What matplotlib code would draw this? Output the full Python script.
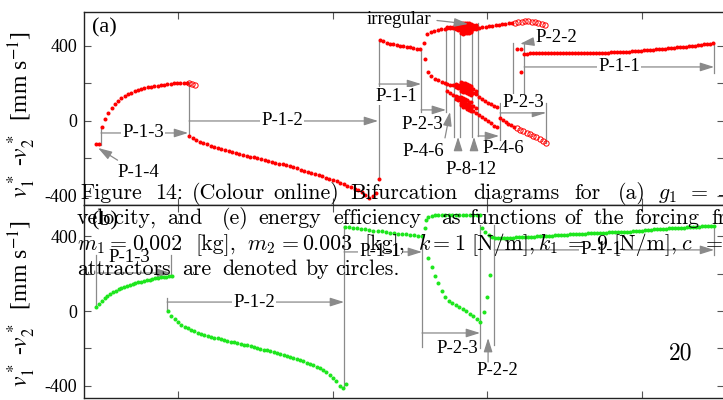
import matplotlib
matplotlib.use('Agg')
import matplotlib.pyplot as plt
import numpy as np

plt.rcParams['font.family'] = ['Liberation Serif', 'DejaVu Serif']
plt.rcParams['mathtext.fontset'] = 'stix'
plt.rcParams['axes.unicode_minus'] = False

red = '#ff0000'
green = '#1ee61e'
gray = '#8a8a8a'

# ---------------- panel (a): forcing frequency vs v1*-v2* ----------------
a_p14_f = [4.70, 4.89]
a_p14_v = [-123, -123]

a_p13_span = (5.07, 10.58)
a_p13_v = [-30, 11, 44, 68, 89, 106, 120, 132, 142, 151, 158, 164, 170, 175,
           179, 183, 186, 189, 192, 194, 196, 198, 200, 201, 203, 204, 205]
a_p13u_f = [10.71, 10.90, 11.10]
a_p13u_v = [204, 198, 192]

a_p12_span = (10.71, 22.58)
a_p12_v = [-80, -92, -102, -110, -118, -125, -131, -137, -143, -149, -154, -159,
           -165, -170, -175, -180, -185, -190, -194, -199, -203, -208, -213, -217,
           -222, -227, -232, -237, -242, -248, -253, -259, -265, -271, -277, -283,
           -289, -295, -302, -308, -315, -322, -330, -337, -345, -353, -361, -370,
           -380, -395, -411, -402]
a_p12e_f = [22.77, 22.96]
a_p12e_v = [-385, -309]

a_p11l_span = (23.06, 25.64)
a_p11l_v = [432, 424, 418, 413, 409, 405, 401, 398, 395, 392, 389, 386, 383]
a_jump_f = [25.90, 25.97, 26.16]
a_jump_v = [416, 331, 261]

a_up_l_span = (26.10, 27.26)
a_up_l_v = [464, 472, 478, 484, 488, 492]
a_lo_l_span = (26.35, 27.26)
a_lo_l_v = [240, 226, 216, 208, 201]

irr_f = [27.39, 27.58, 27.78, 27.97, 28.10, 28.29, 28.42, 28.55, 28.68, 28.81,
         28.94, 29.07, 29.26]
irr_up = [[494, 500], [494, 501], [495, 502], [488, 494, 503, 510],
          [487, 495, 504, 512], [470, 478, 487, 493, 502, 509, 517, 524],
          [466, 475, 482, 491, 497, 506, 513, 522],
          [468, 477, 484, 492, 500, 507, 516, 523],
          [467, 474, 483, 490, 499, 508, 514, 521],
          [470, 479, 485, 494, 501, 510, 516, 523],
          [472, 480, 489, 496, 503, 511, 518], [488, 496, 505, 513],
          [490, 497, 506, 512]]
irr_lo = [[197, 158], [193, 148], [190, 137], [196, 183, 135, 118],
          [192, 178, 128, 110], [208, 195, 185, 171, 161, 127, 113, 97, 85],
          [204, 193, 179, 169, 155, 123, 105, 93, 77],
          [201, 187, 177, 163, 152, 115, 101, 85, 73],
          [195, 185, 171, 161, 147, 111, 93, 81, 65],
          [192, 179, 169, 155, 145, 103, 89, 73, 61],
          [188, 177, 163, 153, 139, 99, 81, 69, 53], [170, 150, 80, 55],
          [160, 142, 68, 42]]
p46r_f = [29.46, 29.65, 29.84, 30.04, 30.23, 30.43, 30.62]
p46r_hi = [128, 118, 108, 98, 90, 80, 72]
p46r_lo = [30, 20, 10, 0, -12, -25, -32]

a_up_r_span = (29.46, 31.59)
a_up_r_v = [496, 499, 502, 505, 508, 511, 514, 517, 519, 521, 522]
a_up_ru_span = (31.78, 33.72)
a_up_ru_v = [525, 528, 530, 531, 531, 530, 528, 524, 519, 510]
a_lo_r_span = (30.81, 31.72)
a_lo_r_v = [16, 5, -5, -14, -22, -30]
a_lo_ru_span = (31.91, 33.79)
a_lo_ru_v = [-40, -48, -56, -64, -72, -80, -88, -96, -106, -117]
a_p22_f = [31.91, 32.17, 32.17, 31.85]
a_p22_v = [384, 384, 261, 133]

a_p11r_span = (32.37, 44.58)
a_p11r_v = [357, 359, 360, 361, 361, 361, 361, 361, 361, 361, 362, 362, 362,
            362, 362, 362, 362, 362, 362, 363, 363, 363, 363,
            364, 364, 364, 365, 365, 365, 366, 366, 366, 367,
            368, 369, 370, 371, 372, 373, 374, 376, 377, 379,
            380, 382, 383, 385, 386, 388, 389, 390, 392, 393,
            395, 396, 398, 400, 402, 404, 406, 408, 410, 412, 415]

# ---------------- panel (b) ----------------
b_p13_span = (4.70, 9.61)
b_p13_v = [21, 40, 55, 68, 80, 91, 100, 108, 116, 123, 129, 135, 140, 145, 150,
           154, 158, 162, 166, 169, 172, 175, 178, 180, 183, 185, 187, 189]
b_p12_span = (9.35, 20.66)
b_p12_v = [0, -25, -45, -60, -73, -84, -93, -101, -109, -116, -122, -128, -133,
           -138, -143, -147, -151, -156, -160, -164, -168, -172, -177, -181,
           -185, -190, -194, -199, -203, -207, -212, -216, -221, -226, -231,
           -236, -241, -247, -252, -258, -264, -270, -277, -284, -291, -299,
           -308, -318, -330, -343, -358, -378, -405, -413]
b_p12e_f = [20.83]
b_p12e_v = [-392]
b_p11l_span = (20.80, 25.77)
b_p11l_v = [453, 450, 447, 444, 441, 438, 435, 432, 429, 427, 424, 421, 418,
            416, 413, 411, 409, 407, 405, 403]
b_jump_f = [25.97, 26.03]
b_jump_v = [446, 489]
b_p23_span = (26.16, 29.52)
b_p23_hi = [505, 512, 515, 516, 517, 517, 517, 517, 517, 517, 517, 516, 516,
            516, 516, 516]
b_p23_lo = [285, 236, 188, 150, 107, 75, 54, 43, 32, 21, 10, -2, -14, -27,
            -42, -59]
b_p22_f = [29.78, 29.97, 30.17]
b_p22_v = [-5, 75, 193]
b_tr_f = [29.65, 29.84, 30.10, 30.30]
b_tr_v = [446, 424, 408, 398]
b_p11r_span = (30.49, 44.65)
b_p11r_v = [394, 392,
            392, 393, 393, 394, 394, 395, 395, 396, 396, 397,
            398, 399, 400, 401, 402, 403, 404, 405, 406, 407, 408,
            409, 410, 411, 412, 413, 414, 415, 416, 417, 418, 419,
            420, 420, 421, 421, 422, 422, 423, 423, 424, 424, 424,
            426, 427, 429, 430, 432, 433, 435, 436, 438, 439, 440,
            441, 442, 443, 444, 445, 446, 447, 448, 449, 450, 451,
            452, 453, 454, 455, 455, 456, 456]

W, H = 723, 400
fig = plt.figure(figsize=(W / 100, H / 100), dpi=100)
ax1 = fig.add_axes([84 / W, 1 - 205 / H, 640 / W, 193 / H])
ax2 = fig.add_axes([84 / W, 1 - 398 / H, 640 / W, 193 / H])

HEAD = '-|>,head_length=0.7,head_width=0.22'


def seg(span, vals):
    return np.linspace(span[0], span[1], len(vals)), vals


def dots(ax, x, y, c):
    ax.plot(x, y, 'o', ms=2.9, color=c, mec='none', zorder=3)


def rings(ax, x, y, c):
    ax.plot(x, y, 'o', ms=3.8, mfc='none', mec=c, mew=0.7, zorder=3)


def vline(ax, x, y0, y1):
    ax.plot([x, x], [y0, y1], color=gray, lw=0.9, zorder=2)


def arrow(ax, x0, y0, x1, y1):
    ax.annotate('', xy=(x1, y1), xytext=(x0, y0),
                arrowprops=dict(arrowstyle=HEAD, color=gray, lw=0.9,
                                mutation_scale=12, shrinkA=0, shrinkB=0),
                zorder=2)


def label(ax, x, y, s, box=False):
    kw = dict(ha='center', va='center', fontsize=13.5, zorder=4)
    if box:
        kw['bbox'] = dict(fc='white', ec='none', pad=0.6)
    ax.text(x, y, s, **kw)


def pointer(ax, s, xy, xytext, rel=(0.5, 0.5)):
    ax.annotate(s, xy=xy, xytext=xytext, ha='center', va='center',
                fontsize=13.5,
                arrowprops=dict(arrowstyle=HEAD, color=gray, lw=0.9,
                                mutation_scale=12, shrinkA=2, shrinkB=0,
                                relpos=rel))


# panel (a) points
dots(ax1, a_p14_f, a_p14_v, red)
dots(ax1, *seg(a_p13_span, a_p13_v), red)
rings(ax1, a_p13u_f, a_p13u_v, red)
dots(ax1, *seg(a_p12_span, a_p12_v), red)
dots(ax1, a_p12e_f, a_p12e_v, red)
dots(ax1, *seg(a_p11l_span, a_p11l_v), red)
dots(ax1, a_jump_f, a_jump_v, red)
dots(ax1, *seg(a_up_l_span, a_up_l_v), red)
dots(ax1, *seg(a_lo_l_span, a_lo_l_v), red)
for f, ys in zip(irr_f, irr_up):
    dots(ax1, [f] * len(ys), ys, red)
for f, ys in zip(irr_f, irr_lo):
    dots(ax1, [f] * len(ys), ys, red)
dots(ax1, p46r_f, p46r_hi, red)
dots(ax1, p46r_f, p46r_lo, red)
dots(ax1, *seg(a_up_r_span, a_up_r_v), red)
rings(ax1, *seg(a_up_ru_span, a_up_ru_v), red)
dots(ax1, *seg(a_lo_r_span, a_lo_r_v), red)
rings(ax1, *seg(a_lo_ru_span, a_lo_ru_v), red)
dots(ax1, a_p22_f, a_p22_v, red)
dots(ax1, *seg(a_p11r_span, a_p11r_v), red)

# panel (a) guides
vline(ax1, 5.02, -128, -32)
arrow(ax1, 5.02, -64, 10.65, -64)
label(ax1, 7.74, -64, 'P-1-3', box=True)
pointer(ax1, 'P-1-4', (4.83, -144), (7.41, -277))
vline(ax1, 10.71, -85, 208)
arrow(ax1, 10.71, 0, 22.93, 0)
label(ax1, 16.72, 0, 'P-1-2', box=True)
vline(ax1, 22.99, -315, 427)
arrow(ax1, 22.99, 197, 25.71, 197)
label(ax1, 24.09, 133, 'P-1-1', box=True)
vline(ax1, 25.71, 48, 379)
arrow(ax1, 25.71, 59, 27.32, 59)
label(ax1, 25.77, -21, 'P-2-3')
vline(ax1, 27.32, 48, 496)
for xv in (27.84, 28.23, 29.00):
    vline(ax1, xv, -85, 523)
vline(ax1, 29.39, -80, 523)
pointer(ax1, 'P-4-6', (27.58, 48), (25.84, -165), rel=(1.0, 1.0))
arrow(ax1, 28.10, -155, 28.10, -85)
arrow(ax1, 29.13, -155, 29.13, -85)
label(ax1, 28.94, -261, 'P-8-12')
arrow(ax1, 29.39, -80, 30.75, -80)
label(ax1, 31.01, -149, 'P-4-6')
pointer(ax1, 'irregular', (28.75, 517), (24.29, 539), rel=(1.0, 0.5))
vline(ax1, 30.81, -101, 96)
vline(ax1, 33.79, -117, 96)
arrow(ax1, 30.81, 43, 33.79, 43)
label(ax1, 32.30, 96, 'P-2-3', box=True)
vline(ax1, 31.65, 139, 416)
vline(ax1, 32.37, 85, 416)
pointer(ax1, 'P-2-2', (32.11, 411), (34.43, 443))
arrow(ax1, 32.37, 288, 44.65, 288)
label(ax1, 38.51, 288, 'P-1-1', box=True)
vline(ax1, 44.65, 256, 416)

# panel (b) points
dots(ax2, *seg(b_p13_span, b_p13_v), green)
dots(ax2, *seg(b_p12_span, b_p12_v), green)
dots(ax2, b_p12e_f, b_p12e_v, green)
dots(ax2, *seg(b_p11l_span, b_p11l_v), green)
dots(ax2, b_jump_f, b_jump_v, green)
dots(ax2, *seg(b_p23_span, b_p23_hi), green)
dots(ax2, *seg(b_p23_span, b_p23_lo), green)
dots(ax2, b_p22_f, b_p22_v, green)
dots(ax2, b_tr_f, b_tr_v, green)
dots(ax2, *seg(b_p11r_span, b_p11r_v), green)

# panel (b) guides
vline(ax2, 4.70, 32, 301)
vline(ax2, 9.55, 183, 301)
arrow(ax2, 4.70, 204, 9.55, 204)
label(ax2, 6.83, 285, 'P-1-3', box=True)
vline(ax2, 9.29, -5, 70)
arrow(ax2, 9.29, 48, 20.73, 48)
label(ax2, 14.91, 48, 'P-1-2', box=True)
vline(ax2, 20.73, -413, 456)
arrow(ax2, 20.73, 317, 25.77, 317)
label(ax2, 23.06, 317, 'P-1-1', box=True)
vline(ax2, 25.77, -193, 408)
arrow(ax2, 25.77, -118, 29.52, -118)
label(ax2, 28.03, -199, 'P-2-3')
vline(ax2, 29.52, -199, 462)
vline(ax2, 30.43, -183, 462)
arrow(ax2, 30.04, -274, 30.04, -145)
label(ax2, 30.62, -322, 'P-2-2')
arrow(ax2, 30.43, 328, 44.65, 328)
label(ax2, 37.34, 328, 'P-1-1', box=True)
vline(ax2, 44.65, 301, 456)

ylab = r'$v_1^*$ -$v_2^*$  [mm s$^{-1}$]'
for ax, lim, tag, ly in ((ax1, (-448, 581), '(a)', 0.47),
                         (ax2, (-467, 569), '(b)', 0.49)):
    ax.set_xlim(3.92, 45.29)
    ax.set_ylim(*lim)
    ax.set_xticks([10, 20, 30, 40])
    ax.set_xticklabels([])
    ax.set_yticks([-400, 0, 400])
    ax.set_yticks([-200, 200], minor=True)
    ax.tick_params(which='both', direction='in', length=5, width=0.8,
                   color='#555555', top=True, right=True, labelsize=13,
                   pad=5)
    for s in ax.spines.values():
        s.set_color('#222222')
        s.set_linewidth(1.0)
    ax.set_ylabel(ylab, fontsize=17)
    ax.yaxis.set_label_coords(-0.072, ly)
    ax.text(0.012, 0.92, tag, transform=ax.transAxes, fontsize=16,
            va='center', ha='left', zorder=5)


# page caption lying over the figure
def ptext(px, py, s, size=15.8):
    fig.text(px / W, 1 - py / H, s, fontsize=size, family='cmr10',
             math_fontfamily='cm', va='baseline', ha='left', zorder=10)


line1 = [(80, 'Figure'), (155, '14:'), (192, '(Colour'), (273, 'online)'),
         (350, 'Bifurcation'), (473, 'diagrams'), (574, 'for'), (618, '(a)'),
         (658, '$g_1$'), (691, '='), (716, r'$-$')]
line2 = [(77, 'velocity,'), (167, 'and'), (222, '(e)'), (258, 'energy'),
         (333, 'efficiency'), (441, 'as'), (469, 'functions'), (564, 'of'),
         (594, 'the'), (634, 'forcing'), (711, 'fre')]
line3 = [(77, '$m_1$'), (110, '='), (132, '0.002'), (195, '[kg],'),
         (247, '$m_2$'), (282, '='), (302, '0.003'), (364, '[kg],'),
         (418, '$k$'), (433, '='), (454, '1'), (471, '[N/m],'), (538, '$k_1$'),
         (568, '='), (596, '9'), (613, '[N/m],'), (681, '$c$'), (706, '=')]
line4 = [(77, 'attractors'), (182, 'are'), (222, 'denoted'), (305, 'by'),
         (335, 'circles.')]
for base, words in ((199, line1), (224, line2), (250, line3), (275, line4)):
    for px, w in words:
        ptext(px, base, w)
ptext(669, 360, '20', size=17)

plt.savefig('out.png', dpi=100)
